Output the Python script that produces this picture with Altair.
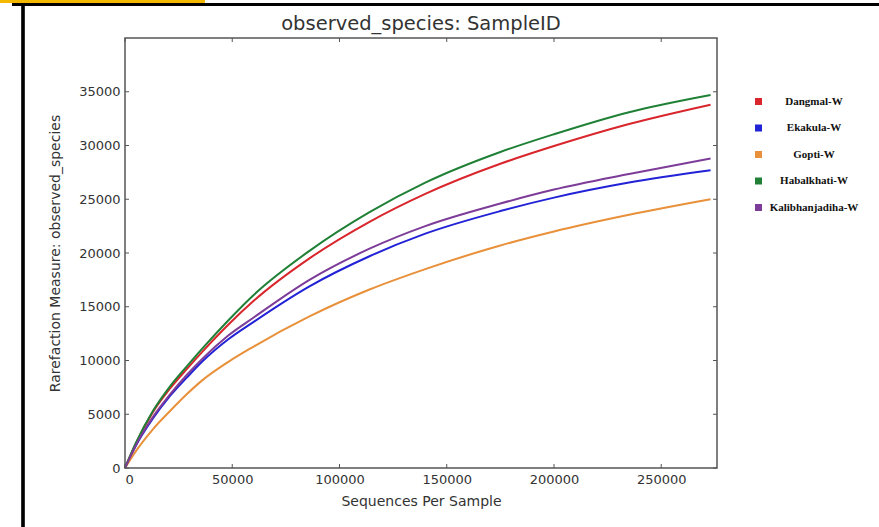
import altair as alt
import pandas as pd

seqs = [0, 5000, 13000, 21000, 29000, 36000, 48000, 60000, 86000, 114000, 140000, 175000, 200000, 235000, 273000]
dangmal = [0, 2250, 5200, 7400, 9250, 10800, 13300, 15550, 19500, 22900, 25500, 28300, 29950, 32000, 33800]
ekakula = [0, 2050, 4600, 6700, 8450, 9900, 11950, 13600, 16900, 19700, 21800, 23900, 25150, 26550, 27700]
gopti = [0, 1550, 3600, 5300, 6900, 8150, 9850, 11300, 14100, 16600, 18500, 20700, 22000, 23550, 25000]
habalkhati = [0, 2300, 5300, 7600, 9500, 11100, 13700, 16100, 20200, 23800, 26550, 29400, 31050, 33100, 34700]
kalibhanjadiha = [0, 2100, 4750, 6850, 8700, 10150, 12300, 14000, 17500, 20400, 22500, 24600, 25900, 27350, 28800]

names = ["Dangmal-W", "Ekakula-W", "Gopti-W", "Habalkhati-W", "Kalibhanjadiha-W"]
colors = ["#d8262c", "#2222d6", "#e8903a", "#1f8036", "#7d3c98"]
series = [dangmal, ekakula, gopti, habalkhati, kalibhanjadiha]

x_ticks = [0, 50000, 100000, 150000, 200000, 250000]
y_ticks = [0, 5000, 10000, 15000, 20000, 25000, 30000, 35000]
title_text = "observed_species: SampleID"

rows = []
for n, s in zip(names, series):
    for xv, yv in zip(seqs, s):
        rows.append({"seq": xv, "val": yv, "sample": n})
df = pd.DataFrame(rows)

W, H = 592, 430
xs = alt.Scale(domain=[0, 276000], nice=False)
ys = alt.Scale(domain=[0, 40000], nice=False)
tick_color = "#555555"

x_axis = alt.Axis(values=x_ticks, ticks=False, grid=False, domain=False,
                  labelPadding=5, titlePadding=8, format="d")
y_axis = alt.Axis(values=y_ticks, ticks=False, grid=False, domain=False,
                  labelPadding=5, titlePadding=16, format="d")
X_TITLE = "Sequences Per Sample"
Y_TITLE = "Rarefaction Measure: observed_species"

lines = alt.Chart(df).mark_line(strokeWidth=2, interpolate="monotone").encode(
    x=alt.X("seq:Q", scale=xs, title=X_TITLE, axis=x_axis),
    y=alt.Y("val:Q", scale=ys, title=Y_TITLE, axis=y_axis),
    color=alt.Color("sample:N", scale=alt.Scale(domain=names, range=colors),
                    legend=alt.Legend(title=None, orient="none", legendX=628, legendY=58,
                                      symbolType="square", symbolSize=12.25, symbolStrokeWidth=3.5,
                                      labelFont="Liberation Serif", labelFontWeight="bold",
                                      labelFontSize=11, labelColor="#111111",
                                      labelAlign="center", labelOffset=50,
                                      rowPadding=7.5, padding=0)),
)

xt = pd.DataFrame({"seq": x_ticks})
yt = pd.DataFrame({"val": y_ticks})

xb = alt.Chart(xt).mark_rule(color=tick_color, strokeWidth=1).encode(
    x=alt.X("seq:Q", scale=xs, title=X_TITLE, axis=x_axis), y=alt.value(H), y2=alt.value(H - 4))
xtop = alt.Chart(xt).mark_rule(color=tick_color, strokeWidth=1).encode(
    x=alt.X("seq:Q", scale=xs, title=X_TITLE, axis=x_axis), y=alt.value(0), y2=alt.value(4))
yl = alt.Chart(yt).mark_rule(color=tick_color, strokeWidth=1).encode(
    y=alt.Y("val:Q", scale=ys, title=Y_TITLE, axis=y_axis), x=alt.value(0), x2=alt.value(4))
yr = alt.Chart(yt).mark_rule(color=tick_color, strokeWidth=1).encode(
    y=alt.Y("val:Q", scale=ys, title=Y_TITLE, axis=y_axis), x=alt.value(W - 4), x2=alt.value(W))

title = alt.Chart(pd.DataFrame({"t": [title_text]})).mark_text(
    font="DejaVu Sans", fontSize=19.5, color="#333333", baseline="middle", align="center"
).encode(text="t:N", x=alt.value(W / 2), y=alt.value(-14))

# outer figure frame (decoration)
frame_top = alt.Chart(xt).mark_rule(color="#000000", strokeWidth=3).encode(
    x=alt.value(-113), x2=alt.value(760), y=alt.value(-33.5))
frame_left = alt.Chart(xt).mark_rule(color="#000000", strokeWidth=2.5).encode(
    x=alt.value(-102), y=alt.value(-33), y2=alt.value(500))
yellow = alt.Chart(xt).mark_rule(color="#f5b800", strokeWidth=3).encode(
    x=alt.value(-125), x2=alt.value(80), y=alt.value(-36.5))

chart = alt.layer(lines, xb, xtop, yl, yr, title, frame_top, frame_left, yellow).properties(
    width=W, height=H,
    background="white",
    autosize=alt.AutoSizeParams(type="none"),
    padding={"left": 125, "top": 38, "right": 162, "bottom": 59},
).configure_view(stroke="#555555", strokeWidth=1.5).configure_axis(
    labelFont="DejaVu Sans", labelFontSize=13, labelColor="#333333",
    titleFont="DejaVu Sans", titleFontSize=14, titleColor="#333333", titleFontWeight="normal"
)

chart.save("out.html", embed_options={"renderer": "svg", "actions": False})
